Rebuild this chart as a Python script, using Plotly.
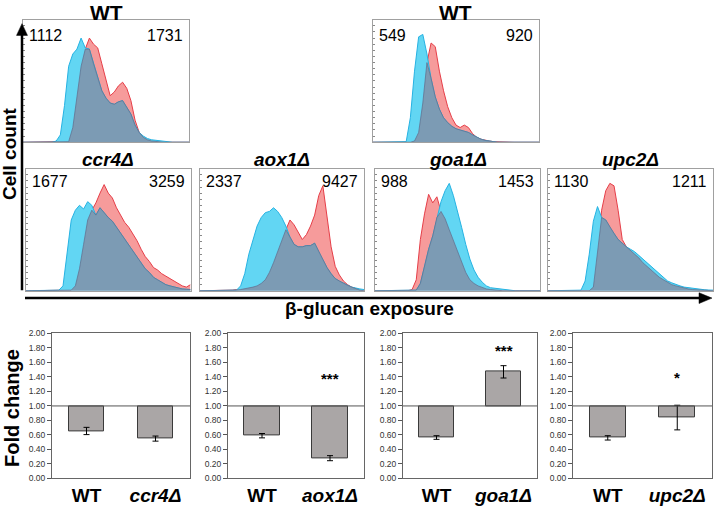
import numpy as np
import plotly.graph_objects as go

# ---------------- data ----------------
# flow-cytometry histogram bins (relative beta-glucan exposure, arbitrary units)
exposure_bins = [round(i * 2.5, 1) for i in range(41)]

# panel A: WT (first experiment)  -> blue 1112, red 1731
wtA_blue = [0, 0, 0, 0, 0, 0, 0, 0, 1, 6, 30, 62, 72, 76, 85, 77, 76, 64, 52, 42, 36, 32, 31, 33, 34, 29, 23,
            14, 8, 5, 3, 2, 1.5, 1, 0.7, 0.4, 0, 0, 0, 0, 0]
wtA_red = [0, 0, 0, 0, 0, 0, 0, 0, 0, 0, 0, 0.5, 12, 36, 62, 76, 85, 80, 77, 64, 50, 38, 41, 46, 49, 44, 34,
           18, 8, 4, 2, 1, 0.5, 0, 0, 0, 0, 0, 0, 0, 0]
# panel B: WT (second experiment) -> blue 549, red 920
wtB_blue = [0, 0, 0, 0, 0, 0, 0, 0, 0.5, 20, 58, 86, 88, 72, 52, 37, 27, 20, 16, 13, 11, 10, 9, 8, 6, 4, 2.5,
            1.5, 0.8, 0.3, 0, 0, 0, 0, 0, 0, 0, 0, 0, 0, 0]
wtB_red = [0, 0, 0, 0, 0, 0, 0, 0, 0, 0, 1, 8, 32, 65, 81, 78, 58, 42, 29, 20, 14, 12, 14, 12, 7, 4, 2.5, 1.5,
           1, 0.5, 0.3, 0, 0, 0, 0, 0, 0, 0, 0, 0, 0]
# panel C: ccr4 -> 1677 / 3259
ccr4_blue = [0, 0, 0, 0, 0, 0, 0, 0, 0.5, 4, 30, 58, 66, 70, 67, 73, 70, 62, 68, 64, 60, 57, 52, 47, 43, 38,
             33, 28, 23, 18, 15, 11, 9, 7, 5, 4, 3, 2, 1.5, 1.2, 1]
ccr4_red = [0, 0, 0, 0, 0, 0, 0, 0, 0, 0, 0, 0.5, 4, 18, 38, 58, 66, 72, 80, 87, 80, 76, 68, 62, 56, 52, 47,
            41, 34, 28, 24, 19, 17, 14, 12, 10, 8, 6, 4, 3, 5]
# panel D: aox1 -> 2337 / 9427
aox1_blue = [0, 0, 0, 0, 0, 0, 0, 0, 0, 0.5, 4, 14, 30, 42, 53, 60, 64, 65, 68, 65, 60, 53, 44, 38, 36, 36,
             37, 37, 39, 32, 25, 19, 14, 10, 8, 6, 4.5, 3, 2, 1.5, 1]
aox1_red = [0, 0, 0, 0, 0, 0, 0, 0, 0.5, 1, 1, 1.5, 2, 3, 4, 6, 9, 15, 23, 32, 42, 50, 58, 54, 48, 42, 46, 53,
            62, 78, 86, 60, 36, 20, 13, 8, 5, 3, 1.5, 0.5, 0]
# panel E: goa1 -> 988 / 1453
goa1_blue = [0, 0, 0, 0, 0, 0, 0, 0, 0, 0, 0.5, 6, 20, 34, 45, 60, 73, 82, 88, 78, 66, 52, 38, 26, 17, 11, 7,
             4, 2.5, 2, 1.5, 1, 0.5, 0, 0, 0, 0, 0, 0, 0, 0]
goa1_red = [0, 0, 0, 0, 0, 0, 0, 0, 0, 1, 9, 42, 63, 79, 72, 77, 65, 59, 50, 41, 33, 24, 15, 9, 6, 4, 2.5, 1.5,
            1, 0.5, 0, 0, 0, 0, 0, 0, 0, 0, 0, 0, 0]
# panel F: upc2 -> 1130 / 1211
upc2_blue = [0, 0, 0, 0, 0, 0, 0, 0, 0.5, 8, 30, 57, 69, 60, 58, 52, 47, 42, 39, 36, 34, 32, 29, 26, 23, 20,
             17, 14, 11, 8, 6.5, 5, 4, 3, 2.5, 2, 1.4, 1, 0.8, 0.6, 0.5]
upc2_red = [0, 0, 0, 0, 0, 0, 0, 0, 0, 0, 0, 3, 30, 66, 82, 88, 86, 66, 42, 36, 33, 30, 27, 23, 20, 17, 14,
            11, 9, 7, 5, 4, 3, 2, 1.5, 1, 0.8, 0.5, 0, 0, 0]

hist_titles = ["WT", "WT", "ccr4Δ", "aox1Δ", "goa1Δ", "upc2Δ"]
hist_italic = [False, False, True, True, True, True]
hist_left_values = ["1112", "549", "1677", "2337", "988", "1130"]
hist_right_values = ["1731", "920", "3259", "9427", "1453", "1211"]
hist_blue = [wtA_blue, wtB_blue, ccr4_blue, aox1_blue, goa1_blue, upc2_blue]
hist_red = [wtA_red, wtB_red, ccr4_red, aox1_red, goa1_red, upc2_red]

# fold change bar charts
bar_strains = ["ccr4Δ", "aox1Δ", "goa1Δ", "upc2Δ"]
wt_fold = [0.655, 0.59, 0.565, 0.56]
wt_err = [0.05, 0.03, 0.025, 0.03]
mut_fold = [0.55, 0.28, 1.47, 0.84]
mut_err = [0.035, 0.035, 0.085, 0.17]
signif_marks = ["", "***", "***", "*"]
signif_level = [0, 1.38, 1.76, 1.39]
fold_ticks = [round(0.2 * i, 1) for i in range(11)]

# ---------------- layout helpers ----------------
W, H = 714, 508
FONT = "Liberation Sans, Arial, Helvetica, sans-serif"


def fx(px):
    return px / W


def fy(py):
    return 1 - py / H


hist_boxes = [(23, 15, 189, 140), (373, 15, 539, 140),
              (26, 167, 190.5, 291.5), (199.5, 167, 364, 291.5),
              (375, 167, 540, 291.5), (548, 167, 713, 291.5)]
bar_boxes = [(52, 335, 190, 483), (228, 335, 364, 483),
             (403, 335, 537, 483), (573, 335, 712, 483)]

BLUE_FILL = "rgb(98,214,243)"
BLUE_LINE = "rgb(38,178,226)"
RED_FILL = "rgb(246,155,155)"
RED_LINE = "rgb(229,62,72)"
MIX_FILL = "rgb(124,155,180)"
MIX_LINE = "rgba(98,108,140,0.9)"
BAR_FILL = "#aaa6a6"


def names(n):
    s = "" if n == 1 else str(n)
    return "x" + s, "y" + s, "xaxis" + s, "yaxis" + s


fig = go.Figure()
layout = {}
annotations = []
shapes = []

# ---------------- histograms ----------------
for i in range(6):
    n = i + 1
    xr, yr, xa, ya = names(n)
    x0, y0, x1, y1 = hist_boxes[i]
    blue = np.array(hist_blue[i], dtype=float)
    red = np.array(hist_red[i], dtype=float)
    mix = np.minimum(blue, red)
    fig.add_trace(go.Scatter(x=exposure_bins, y=red, mode="lines", fill="tozeroy",
                             fillcolor=RED_FILL, line=dict(color=RED_LINE, width=1),
                             xaxis=xr, yaxis=yr, hoverinfo="skip"))
    fig.add_trace(go.Scatter(x=exposure_bins, y=blue, mode="lines", fill="tozeroy",
                             fillcolor=BLUE_FILL, line=dict(color=BLUE_LINE, width=1),
                             xaxis=xr, yaxis=yr, hoverinfo="skip"))
    fig.add_trace(go.Scatter(x=exposure_bins, y=mix, mode="lines", fill="tozeroy",
                             fillcolor=MIX_FILL, line=dict(color=MIX_LINE, width=0.8),
                             xaxis=xr, yaxis=yr, hoverinfo="skip"))
    layout[xa] = dict(domain=[fx(x0), fx(x1)], anchor=yr, range=[0, 100], showticklabels=False,
                      ticks="", showgrid=False, zeroline=False, showline=True, mirror=True,
                      linecolor="#a0a0a0", linewidth=1)
    layout[ya] = dict(domain=[fy(y1), fy(y0)], anchor=xr, range=[0, 100], showticklabels=False,
                      ticks="inside", ticklen=2, tickcolor="#888", dtick=5, showgrid=False,
                      zeroline=False, showline=True, mirror=True, linecolor="#a0a0a0", linewidth=1)
    title = hist_titles[i]
    title_txt = f"<b><i>{title}</i></b>" if hist_italic[i] else f"<b>{title}</b>"
    if i < 2:
        annotations.append(dict(x=fx((x0 + x1) / 2), y=fy(y0 - 7), xref="paper", yref="paper",
                                text=title_txt, showarrow=False, xanchor="center", yanchor="middle",
                                font=dict(family=FONT, size=21, color="black")))
        ty = y0 + 16
    else:
        annotations.append(dict(x=fx((x0 + x1) / 2), y=fy(y0 - 9), xref="paper", yref="paper",
                                text=title_txt, showarrow=False, xanchor="center", yanchor="middle",
                                font=dict(family=FONT, size=19, color="black")))
        ty = y0 + 13.5
    annotations.append(dict(x=fx(x0 + 4), y=fy(ty), xref="paper", yref="paper",
                            text=hist_left_values[i], showarrow=False, xanchor="left", yanchor="middle",
                            font=dict(family=FONT, size=16, color="black")))
    annotations.append(dict(x=fx(x1 - 4), y=fy(ty), xref="paper", yref="paper",
                            text=hist_right_values[i], showarrow=False, xanchor="right", yanchor="middle",
                            font=dict(family=FONT, size=16, color="black")))

# ---------------- bar charts ----------------
for k in range(4):
    n = 7 + k
    xr, yr, xa, ya = names(n)
    x0, y0, x1, y1 = bar_boxes[k]
    vals = [wt_fold[k], mut_fold[k]]
    errs = [wt_err[k], mut_err[k]]
    fig.add_trace(go.Bar(x=[0, 1], y=[v - 1 for v in vals], base=[1, 1], width=0.52,
                         marker=dict(color=BAR_FILL, line=dict(color="#3a3a3a", width=1)),
                         xaxis=xr, yaxis=yr, hoverinfo="skip"))
    fig.add_trace(go.Scatter(x=[0, 1], y=vals, mode="markers",
                             marker=dict(size=1, color="rgba(0,0,0,0)"),
                             error_y=dict(type="data", array=errs, color="black", thickness=1, width=3),
                             xaxis=xr, yaxis=yr, hoverinfo="skip"))
    layout[xa] = dict(domain=[fx(x0), fx(x1)], anchor=yr, range=[-0.5, 1.5], tickvals=[0, 1],
                      ticktext=["<b>WT</b>", f"<b><i>{bar_strains[k]}</i></b>"], ticks="",
                      tickfont=dict(family=FONT, size=19, color="black"), showgrid=False,
                      zeroline=False, showline=True, mirror=True, linecolor="#666", linewidth=1)
    layout[ya] = dict(domain=[fy(y1), fy(y0)], anchor=xr, range=[0, 2], tickvals=fold_ticks,
                      tickformat=".2f", ticks="outside", ticklen=4, tickcolor="#555",
                      tickfont=dict(family=FONT, size=8.5, color="#333"), showgrid=False,
                      zeroline=False, showline=True, mirror=True, linecolor="#666", linewidth=1)
    shapes.append(dict(type="line", xref=f"{xr} domain", yref=yr, x0=0, x1=1, y0=1, y1=1,
                       line=dict(color="#555", width=1)))
    if signif_marks[k]:
        annotations.append(dict(x=1, y=signif_level[k], xref=xr, yref=yr, text=f"<b>{signif_marks[k]}</b>",
                                showarrow=False, xanchor="center", yanchor="middle",
                                font=dict(family=FONT, size=15, color="black")))

# ---------------- axis arrows and labels ----------------
shapes.append(dict(type="line", xref="paper", yref="paper", x0=fx(22), x1=fx(22), y0=fy(291), y1=fy(28),
                   line=dict(color="black", width=2.5)))
shapes.append(dict(type="path", xref="paper", yref="paper",
                   path=f"M {fx(16.5)},{fy(31)} L {fx(27.5)},{fy(31)} L {fx(22)},{fy(19)} Z",
                   fillcolor="black", line=dict(color="black", width=0.5)))
shapes.append(dict(type="line", xref="paper", yref="paper", x0=fx(25), x1=fx(702), y0=fy(299), y1=fy(299),
                   line=dict(color="black", width=2.5)))
shapes.append(dict(type="path", xref="paper", yref="paper",
                   path=f"M {fx(699)},{fy(293.5)} L {fx(699)},{fy(304.5)} L {fx(712)},{fy(299)} Z",
                   fillcolor="black", line=dict(color="black", width=0.5)))

annotations.append(dict(x=fx(9), y=fy(152), xref="paper", yref="paper", text="<b>Cell count</b>",
                        textangle=-90, showarrow=False, xanchor="center", yanchor="middle",
                        font=dict(family=FONT, size=19, color="black")))
annotations.append(dict(x=fx(369), y=fy(310), xref="paper", yref="paper", text="<b>β-glucan exposure</b>",
                        showarrow=False, xanchor="center", yanchor="middle",
                        font=dict(family=FONT, size=19, color="black")))
annotations.append(dict(x=fx(12), y=fy(411), xref="paper", yref="paper", text="<b>Fold change</b>",
                        textangle=-90, showarrow=False, xanchor="center", yanchor="middle",
                        font=dict(family=FONT, size=20, color="black")))

fig.update_layout(width=W, height=H, margin=dict(l=0, r=0, t=0, b=0), showlegend=False,
                  plot_bgcolor="white", paper_bgcolor="white", bargap=0,
                  annotations=annotations, shapes=shapes, **layout)

fig.write_html("out.html", config={"displayModeBar": False},
               post_script="document.body.style.margin='0';document.body.style.padding='0';")
